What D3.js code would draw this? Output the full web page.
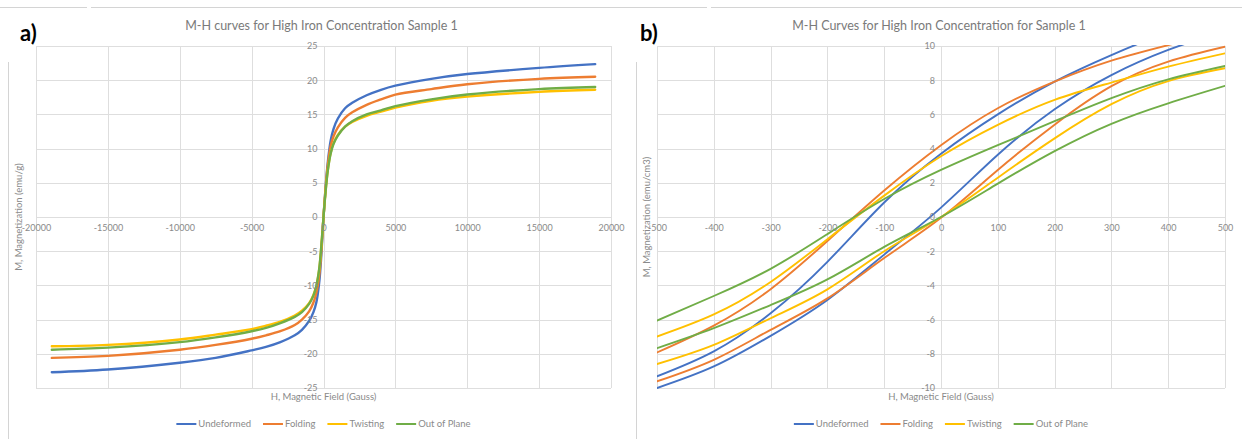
<!DOCTYPE html>
<html>
<head>
<meta charset="utf-8">
<script src="https://cdn.jsdelivr.net/npm/d3@7"></script>
<style>
  body { margin: 0; background: #fff; }
  svg { display: block; font-family: Lato, "Open Sans", sans-serif; }
</style>
</head>
<body>
<svg id="chart" width="1242" height="439"></svg>
<script>
// ---- panel a : full field sweep ----
const fieldA = [-18900, -15000, -10000, -7500, -5000, -4000, -3000, -2000, -1500, -1000, -700, -500, -300, -150, 0,
                150, 300, 500, 700, 1000, 1500, 2000, 3000, 4000, 5000, 7500, 10000, 15000, 18900];
const undeformedA = [-22.7, -22.3, -21.3, -20.6, -19.5, -19.0, -18.3, -17.3, -16.5, -15.2, -13.9, -12.5, -9.6, -5.5, 0,
                     4.5, 8.0, 11.2, 12.9, 14.4, 15.9, 16.7, 17.8, 18.6, 19.2, 20.2, 20.9, 21.8, 22.35];
const foldingA = [-20.6, -20.3, -19.4, -18.7, -17.8, -17.3, -16.7, -15.8, -15.0, -13.8, -12.5, -11.1, -8.6, -4.9, 0,
                  4.3, 7.6, 10.4, 11.8, 13.1, 14.5, 15.3, 16.4, 17.2, 17.9, 18.7, 19.4, 20.2, 20.5];
const twistingA = [-18.9, -18.7, -17.9, -17.2, -16.4, -15.9, -15.3, -14.4, -13.7, -12.6, -11.4, -10.1, -7.7, -4.3, 0,
                   3.9, 6.9, 9.4, 10.8, 12.0, 13.2, 13.9, 14.8, 15.4, 16.0, 17.0, 17.6, 18.3, 18.6];
const outOfPlaneA = [-19.4, -19.1, -18.3, -17.6, -16.7, -16.2, -15.5, -14.6, -13.9, -12.7, -11.5, -10.1, -7.6, -4.2, 0,
                     3.8, 6.8, 9.3, 10.7, 11.9, 13.2, 14.0, 15.0, 15.6, 16.2, 17.2, 17.9, 18.7, 19.0];

// ---- panel b : zoom on the loop, two branches per sample ----
const fieldB = [-500, -400, -300, -200, -100, 0, 100, 200, 300, 400, 500];
const undeformedDownB = [-9.32, -7.86, -5.63, -2.62, 0.85, 3.7, 6.0, 7.92, 9.47, 10.8, 11.8];
const undeformedUpB   = [-10.0, -8.74, -6.95, -4.85, -2.2, 0.55, 3.64, 6.3, 8.3, 9.77, 10.9];
const foldingDownB    = [-7.92, -6.35, -4.22, -1.4, 1.55, 4.2, 6.36, 7.92, 9.14, 10.05, 10.9];
const foldingUpB      = [-9.61, -8.35, -6.6, -4.76, -2.4, -0.05, 2.75, 5.4, 7.65, 9.09, 9.96];
const twistingDownB   = [-6.99, -5.7, -3.8, -1.3, 1.25, 3.55, 5.39, 6.85, 7.86, 8.79, 9.57];
const twistingUpB     = [-8.6, -7.48, -5.92, -4.23, -2.0, 0, 2.3, 4.6, 6.6, 7.95, 8.7];
const outOfPlaneDownB = [-6.06, -4.62, -3.03, -1.0, 1.05, 2.75, 4.2, 5.6, 6.95, 8.05, 8.83];
const outOfPlaneUpB   = [-7.67, -6.5, -5.15, -3.65, -1.75, 0, 1.95, 3.85, 5.45, 6.65, 7.67];

const seriesNames = ['Undeformed', 'Folding', 'Twisting', 'Out of Plane'];
const seriesColors = ['#4472c4', '#ed7d31', '#ffc000', '#70ad47'];

const ticksA_x = d3.range(-20000, 20001, 5000);
const ticksA_y = d3.range(-25, 26, 5);
const ticksB_x = d3.range(-500, 501, 100);
const ticksB_y = d3.range(-10, 11, 2);

const svg = d3.select('#chart');
const gridColor = '#dedede';
const textColor = '#8a8a8a';

// panel frames (two excel chart boxes)
const frame = svg.append('g').attr('stroke', '#d4d4d4').attr('stroke-width', 1);
frame.append('line').attr('x1', 0).attr('x2', 87).attr('y1', 7.5).attr('y2', 7.5);
frame.append('line').attr('x1', 91).attr('x2', 707).attr('y1', 7.5).attr('y2', 7.5);
frame.append('line').attr('x1', 711).attr('x2', 1242).attr('y1', 7.5).attr('y2', 7.5);
frame.append('line').attr('x1', 8.5).attr('x2', 8.5).attr('y1', 62).attr('y2', 439);
frame.append('line').attr('x1', 636.5).attr('x2', 636.5).attr('y1', 62).attr('y2', 439);

function drawPanel(cfg) {
  const { x, y, ticksX, ticksY, title, letter, letterX, yTitle, lines } = cfg;
  const g = svg.append('g');
  const [x0, x1] = x.range();
  const [y0, y1] = y.range();

  // gridlines
  g.append('g').selectAll('line').data(ticksX).join('line')
    .attr('x1', d => Math.round(x(d)) + 0.5).attr('x2', d => Math.round(x(d)) + 0.5)
    .attr('y1', y1).attr('y2', y0)
    .attr('stroke', gridColor);
  g.append('g').selectAll('line').data(ticksY).join('line')
    .attr('y1', d => Math.round(y(d)) + 0.5).attr('y2', d => Math.round(y(d)) + 0.5)
    .attr('x1', x0).attr('x2', x1)
    .attr('stroke', gridColor);

  // curves
  const clipId = 'clip-' + letter;
  g.append('clipPath').attr('id', clipId).append('rect')
    .attr('x', x0).attr('y', y1 - 1).attr('width', x1 - x0).attr('height', y0 - y1 + 2);
  const line = d3.line().x(d => x(d[0])).y(d => y(d[1])).curve(cfg.curve);
  g.append('g').attr('clip-path', `url(#${clipId})`)
    .selectAll('path').data(lines).join('path')
    .attr('d', d => line(d.h.map((h, i) => [h, d.m[i]])))
    .attr('fill', 'none')
    .attr('stroke', d => seriesColors[d.s])
    .attr('stroke-width', cfg.lineWidth)
    .attr('stroke-linecap', 'round');

  // axes crossing at zero, labels only
  const yAxis = d3.axisLeft(y).tickValues(ticksY).tickSize(0).tickPadding(6).tickFormat(d => String(d));
  const xAxis = d3.axisBottom(x).tickValues(ticksX).tickSize(0).tickPadding(8).tickFormat(d => String(d));
  const ya = g.append('g').attr('transform', `translate(${x(0)},0)`).call(yAxis);
  const xa = g.append('g').attr('transform', `translate(0,${y(0)})`).call(xAxis);
  [ya, xa].forEach(a => {
    a.select('.domain').remove();
    a.selectAll('text').attr('fill', textColor).style('font-size', '9px')
      .style('font-family', 'Lato, sans-serif');
  });

  const cx = (x0 + x1) / 2;
  g.append('text').attr('x', cx - 2).attr('y', 30).attr('text-anchor', 'middle')
    .attr('fill', '#7a7a7a').style('font-size', cfg.titleSize).text(title);
  g.append('text').attr('x', letterX).attr('y', 41)
    .attr('fill', '#000').style('font-size', '22px').style('font-weight', 'bold').text(letter + ')');
  g.append('text').attr('x', cx).attr('y', 400).attr('text-anchor', 'middle')
    .attr('fill', textColor).style('font-size', '9.5px').text('H, Magnetic Field (Gauss)');
  g.append('text').attr('transform', `translate(${cfg.yTitleX},${(y0 + y1) / 2}) rotate(-90)`)
    .attr('text-anchor', 'middle').attr('fill', textColor).style('font-size', '9.5px').text(yTitle);

  // legend
  const leg = g.append('g');
  const items = leg.selectAll('g').data(seriesNames).join('g');
  items.append('line').attr('x1', 0).attr('x2', 20).attr('y1', 0).attr('y2', 0)
    .attr('stroke', (d, i) => seriesColors[i]).attr('stroke-width', 2);
  items.append('text').attr('x', 22).attr('y', 3.3).attr('fill', textColor)
    .style('font-size', '9.5px').text(d => d);
  let off = 0;
  items.each(function () {
    const w = 22 + d3.select(this).select('text').node().getComputedTextLength();
    d3.select(this).attr('transform', `translate(${off},0)`);
    off += w + 12;
  });
  leg.attr('transform', `translate(${cx - (off - 12) / 2},424)`);
}

drawPanel({
  x: d3.scaleLinear([-20000, 20000], [36, 611]),
  y: d3.scaleLinear([-25, 25], [388, 46]),
  ticksX: ticksA_x, ticksY: ticksA_y,
  title: 'M-H curves for High Iron Concentration Sample 1',
  titleSize: '12.5px',
  letter: 'a', letterX: 20,
  yTitle: 'M, Magnetization (emu/g)', yTitleX: 22,
  lineWidth: 2.4,
  curve: d3.curveCatmullRom.alpha(0.5),
  lines: [undeformedA, foldingA, twistingA, outOfPlaneA].map((m, s) => ({ s, h: fieldA, m }))
});

drawPanel({
  x: d3.scaleLinear([-500, 500], [657, 1225]),
  y: d3.scaleLinear([-10, 10], [388, 46]),
  ticksX: ticksB_x, ticksY: ticksB_y,
  title: 'M-H Curves for High Iron Concentration for Sample 1',
  titleSize: '12.5px',
  letter: 'b', letterX: 640,
  yTitle: 'M, Magnetization (emu/cm3)', yTitleX: 650,
  lineWidth: 1.9,
  curve: d3.curveNatural,
  lines: [
    [undeformedDownB, undeformedUpB], [foldingDownB, foldingUpB],
    [twistingDownB, twistingUpB], [outOfPlaneDownB, outOfPlaneUpB]
  ].flatMap((pair, s) => pair.map(m => ({ s, h: fieldB, m })))
});
</script>
</body>
</html>
